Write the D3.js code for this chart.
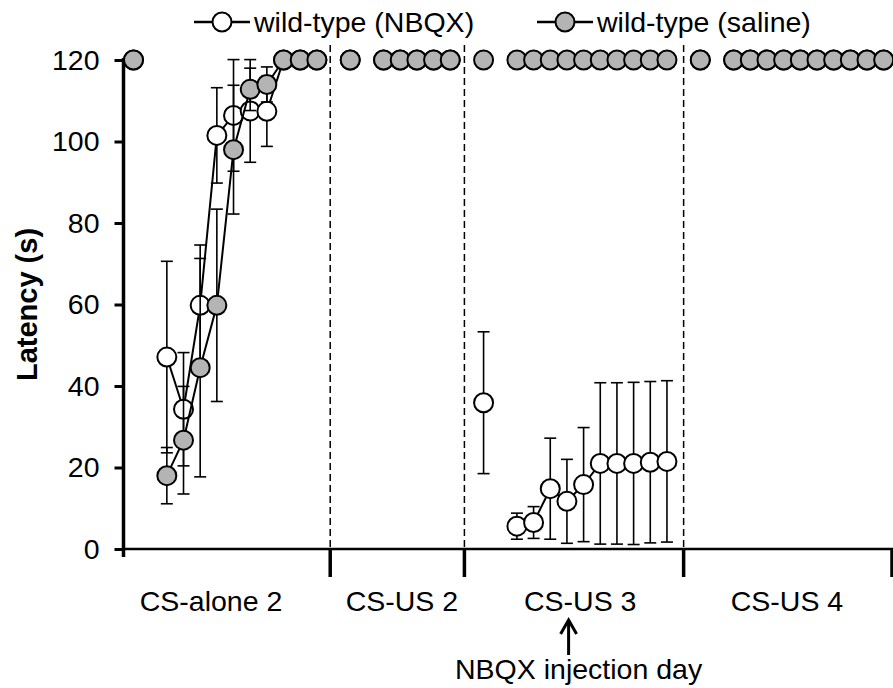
<!DOCTYPE html>
<html>
<head>
<meta charset="utf-8">
<script src="https://cdn.jsdelivr.net/npm/d3@7"></script>
<style>
  body { margin: 0; background: #fff; }
  svg { display: block; font-family: Arial, "Liberation Sans", sans-serif; }
</style>
</head>
<body>
<div id="chart"></div>
<script>
// ---- data ----

// session names, where the sessions break on the trial axis and where the names sit
const sessions = ["CS-alone 2", "CS-US 2", "CS-US 3", "CS-US 4"];
const sessionBreaks = [-0.6, 11.8, 19.85, 33, 45.5];
const sessionLabelAt = [4.65, 16.1, 26.8, 39.2];
const injectionAt = 26.1;

// pre-trial (unconnected) point of every session
const preTrial = [0, 13, 21, 34];

// trial positions inside each session
const trials = [
    [2, 3, 4, 5, 6, 7, 8, 9, 10, 11],
    [15, 16, 17, 18, 19],
    [23, 24, 25, 26, 27, 28, 29, 30, 31, 32],
    [36, 37, 38, 39, 40, 41, 42, 43, 44, 45]
];

// wild-type (NBQX)
const nbqxPre = [120, 120, 35.9, 120];
const nbqxPreErr = [0, 0, 17.4, 0];
const nbqxMean = [
    [47.1, 34.3, 59.8, 101.5, 106.4, 107.5, 107.4, 120, 120, 120],
    [120, 120, 120, 120, 120],
    [5.6, 6.5, 14.8, 11.7, 15.8, 21.0, 21.0, 21.0, 21.3, 21.5],
    [120, 120, 120, 120, 120, 120, 120, 120, 120, 120]
];
const nbqxErr = [
    [23.5, 13.9, 14.8, 11.7, 13.7, 12.6, 8.6, 0, 0, 0],
    [0, 0, 0, 0, 0],
    [3.2, 3.9, 12.4, 10.3, 14.0, 19.8, 19.8, 19.9, 19.8, 19.8],
    [0, 0, 0, 0, 0, 0, 0, 0, 0, 0]
];

// wild-type (saline)
const salinePre = [120, 120, 120, 120];
const salinePreErr = [0, 0, 0, 0];
const salineMean = [
    [18.0, 26.7, 44.5, 59.8, 98.0, 112.8, 114.0, 120, 120, 120],
    [120, 120, 120, 120, 120],
    [120, 120, 120, 120, 120, 120, 120, 120, 120, 120],
    [120, 120, 120, 120, 120, 120, 120, 120, 120, 120]
];
const salineErr = [
    [6.9, 13.2, 26.8, 23.6, 15.8, 5.2, 4.3, 0, 0, 0],
    [0, 0, 0, 0, 0],
    [0, 0, 0, 0, 0, 0, 0, 0, 0, 0],
    [0, 0, 0, 0, 0, 0, 0, 0, 0, 0]
];

const yTicks = [0, 20, 40, 60, 80, 100, 120];
const legendNames = ["wild-type (NBQX)", "wild-type (saline)"];

// ---- drawing ----

const width = 893, height = 688;
const margin = {left: 123.5, right: 1, top: 60, bottom: 139};
const fontSize = 28.5;
const r = 9.5;

let svg = d3.select("#chart").append("svg")
    .attr("width", width)
    .attr("height", height);

let x = d3.scaleLinear()
    .domain([sessionBreaks[0], sessionBreaks[sessionBreaks.length - 1]])
    .range([margin.left, width - margin.right]);

let y = d3.scaleLinear()
    .domain([0, 120])
    .range([height - margin.bottom, margin.top]);

let y0 = y(0);

// dashed session separators
svg.selectAll(".sep")
    .data(sessionBreaks.slice(1, -1))
    .enter().append("line")
    .attr("x1", d => x(d)).attr("x2", d => x(d))
    .attr("y1", y(120) - 15).attr("y2", y0)
    .attr("stroke", "#000")
    .attr("stroke-width", 1.5)
    .attr("stroke-dasharray", "7,4");

// y axis
let yAxis = svg.append("g")
    .attr("transform", `translate(${margin.left},0)`)
    .call(d3.axisLeft(y).tickValues(yTicks).tickSize(9).tickPadding(15));
yAxis.select(".domain").remove();
yAxis.selectAll(".tick line").attr("stroke-width", 3);
yAxis.selectAll(".tick text")
    .attr("font-size", fontSize)
    .attr("font-family", "Arial, 'Liberation Sans', sans-serif")
    .attr("fill", "#000");
svg.append("line")
    .attr("x1", margin.left).attr("x2", margin.left)
    .attr("y1", y(120) - 2).attr("y2", y0 + 8)
    .attr("stroke", "#000").attr("stroke-width", 3.5);

// x axis with session ticks
svg.append("line")
    .attr("x1", margin.left).attr("x2", width)
    .attr("y1", y0).attr("y2", y0)
    .attr("stroke", "#000").attr("stroke-width", 2.5);

svg.selectAll(".xtick")
    .data(sessionBreaks.slice(1))
    .enter().append("line")
    .attr("x1", d => x(d)).attr("x2", d => x(d))
    .attr("y1", y0).attr("y2", y0 + 28)
    .attr("stroke", "#000").attr("stroke-width", 3.5);

svg.selectAll(".xlabel")
    .data(sessions)
    .enter().append("text")
    .attr("x", (d, i) => x(sessionLabelAt[i]))
    .attr("y", y0 + 62)
    .attr("text-anchor", "middle")
    .attr("font-size", fontSize)
    .text(d => d);

// y label
svg.append("text")
    .attr("transform", `translate(37,${(y(0) + y(120)) / 2}) rotate(-90)`)
    .attr("text-anchor", "middle")
    .attr("font-size", 29)
    .attr("font-weight", "bold")
    .text("Latency (s)");

// injection day annotation
let injX = x(injectionAt);
svg.append("line")
    .attr("x1", injX).attr("x2", injX)
    .attr("y1", y0 + 106).attr("y2", y0 + 73)
    .attr("stroke", "#000").attr("stroke-width", 3);
svg.append("path")
    .attr("d", `M${injX - 8},${y0 + 85} L${injX},${y0 + 71} L${injX + 8},${y0 + 85}`)
    .attr("fill", "none").attr("stroke", "#000").attr("stroke-width", 3);
svg.append("text")
    .attr("x", injX + 10)
    .attr("y", y0 + 130)
    .attr("text-anchor", "middle")
    .attr("font-size", fontSize)
    .text("NBQX injection day");

// one list of points per series
function buildPoints(pre, preErr, mean, err) {
    let pts = [];
    preTrial.forEach((t, s) => pts.push({t: t, v: pre[s], e: preErr[s]}));
    trials.forEach((row, s) => row.forEach((t, k) => pts.push({t: t, v: mean[s][k], e: err[s][k]})));
    return pts;
}

function drawSeries(pre, preErr, mean, err, fill) {
    let g = svg.append("g");
    let line = d3.line().x(d => x(d[0])).y(d => y(d[1]));

    // lines join the trials of each session (pre-trial point stays alone)
    trials.forEach((row, s) => {
        g.append("path")
            .datum(row.map((t, k) => [t, mean[s][k]]))
            .attr("d", line)
            .attr("fill", "none")
            .attr("stroke", "#000")
            .attr("stroke-width", 2);
    });

    let pts = buildPoints(pre, preErr, mean, err).filter(d => d.e > 0);

    g.selectAll(".bar").data(pts).enter().append("line")
        .attr("x1", d => x(d.t)).attr("x2", d => x(d.t))
        .attr("y1", d => y(d.v - d.e)).attr("y2", d => y(d.v + d.e))
        .attr("stroke", "#000").attr("stroke-width", 1.6);
    [-1, 1].forEach(sign => {
        g.selectAll(".cap" + sign).data(pts).enter().append("line")
            .attr("x1", d => x(d.t) - 6).attr("x2", d => x(d.t) + 6)
            .attr("y1", d => y(d.v + sign * d.e)).attr("y2", d => y(d.v + sign * d.e))
            .attr("stroke", "#000").attr("stroke-width", 1.6);
    });

    g.selectAll("circle").data(buildPoints(pre, preErr, mean, err)).enter().append("circle")
        .attr("cx", d => x(d.t))
        .attr("cy", d => y(d.v))
        .attr("r", r)
        .attr("fill", fill)
        .attr("stroke", "#000")
        .attr("stroke-width", 2);
}

drawSeries(nbqxPre, nbqxPreErr, nbqxMean, nbqxErr, "#fff");
drawSeries(salinePre, salinePreErr, salineMean, salineErr, "#b4b4b4");

// legend
const legendX = [222, 565];
const legendFill = ["#fff", "#b4b4b4"];
legendNames.forEach((name, i) => {
    let lg = svg.append("g").attr("transform", `translate(${legendX[i]},22)`);
    lg.append("line").attr("x1", -28).attr("x2", 28)
        .attr("stroke", "#000").attr("stroke-width", 2.5);
    lg.append("circle").attr("r", r).attr("fill", legendFill[i])
        .attr("stroke", "#000").attr("stroke-width", 2);
    lg.append("text").attr("x", 32).attr("y", 10)
        .attr("font-size", fontSize)
        .text(name);
});
</script>
</body>
</html>
